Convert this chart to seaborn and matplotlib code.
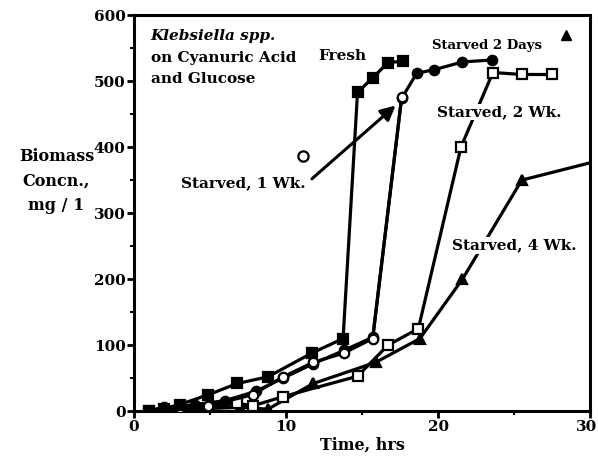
import matplotlib
matplotlib.use("Agg")
import matplotlib.pyplot as plt
import matplotlib.transforms as mtransforms
import seaborn as sns
import pandas as pd

# ---- data ----
fresh_t = [1, 2, 3, 4.9, 6.8, 8.8, 11.7, 13.75, 14.7, 15.7, 16.7, 17.7]
fresh_y = [0, 4, 10, 25, 42, 52, 88, 110, 483, 505, 528, 530]

days2_t = [1, 2, 4, 6, 8, 9.8, 11.8, 13.8, 15.7, 17.6, 18.6, 19.7, 21.6, 23.55]
days2_y = [0, 5, 10, 16, 30, 50, 72, 92, 112, 474, 512, 517, 529, 532]

wk1_t = [1, 2, 3, 4.9, 7.8, 9.8, 11.8, 13.8, 15.7, 17.6]
wk1_y = [0, 7, 5, 8, 25, 52, 74, 88, 110, 476]

wk2_t = [1, 3, 6.8, 7.8, 9.8, 14.7, 16.7, 18.7, 21.5, 23.6, 25.5, 27.5]
wk2_y = [0, 0, 12, 8, 22, 53, 100, 125, 400, 513, 510, 510]

wk4_t = [1, 3, 5, 7, 8.8, 11.8, 15.9, 18.8, 21.6, 25.5, 32]
wk4_y = [0, 2, 4, 6, 3, 42, 74, 110, 200, 350, 388]

x_ticks = [0, 10, 20, 30]
y_ticks = [0, 100, 200, 300, 400, 500, 600]

# label symbols drawn next to labels
wk1_symbol = (11.1, 386)
days2_symbol = (28.4, 570)

sns.set_theme(style="white")
plt.rcParams["font.family"] = ["DejaVu Serif"]
plt.rcParams["font.weight"] = "bold"
for k in ["text.color", "axes.labelcolor", "xtick.color", "ytick.color",
          "axes.edgecolor"]:
    plt.rcParams[k] = "black"

fig = plt.figure(figsize=(5.98, 4.71), dpi=100)
ax = fig.add_axes([0.224, 0.127, 0.763, 0.841])

lw = 2.3
ms = 6.8
mew = 1.6

def draw(t, y, marker, face, z):
    df = pd.DataFrame({"t": t, "y": y})
    sns.lineplot(data=df, x="t", y="y", ax=ax, color="black", lw=lw,
                 marker=marker, markersize=ms, markerfacecolor=face,
                 markeredgecolor="black", markeredgewidth=mew,
                 estimator=None, sort=False, zorder=z, clip_on=True)

draw(wk4_t, wk4_y, "^", "black", 3)
draw(wk2_t, wk2_y, "s", "white", 4)
draw(days2_t, days2_y, "o", "black", 5)
draw(wk1_t, wk1_y, "o", "white", 6)
draw(fresh_t, fresh_y, "s", "black", 7)

ax.set_xlim(0, 30)
ax.set_ylim(0, 600)
ax.set_xticks(x_ticks)
ax.set_yticks(y_ticks)
ax.set_xticks([5, 15, 25], minor=True)
ax.set_yticks([50, 150, 250, 350, 450, 550], minor=True)
ax.tick_params(which="major", direction="out", length=5, width=2,
               labelsize=11, left=True, bottom=True, pad=1,
               colors="black")
ax.tick_params(which="minor", direction="out", length=3, width=1.5,
               left=True, bottom=True, colors="black")
for lab in ax.get_xticklabels() + ax.get_yticklabels():
    lab.set_fontweight("bold")
# nudge the last x label so it stays inside the figure
last = ax.get_xticklabels()[-1]
last.set_transform(last.get_transform() +
                   mtransforms.ScaledTranslation(-4 / 100, 0, fig.dpi_scale_trans))
for s in ax.spines.values():
    s.set_linewidth(2.2)
    s.set_color("black")

ax.set_xlabel("Time, hrs", fontsize=11.5, fontweight="bold", labelpad=2)
ax.set_ylabel("")
ax.text(-0.17, 0.581, "Biomass\nConcn.,\nmg / 1", transform=ax.transAxes,
        ha="center", va="center", fontsize=11.5, fontweight="bold",
        linespacing=1.6)

txt = dict(fontweight="bold", color="black", zorder=10)
box = dict(facecolor="white", edgecolor="none", pad=1.0)

ax.text(1.1, 568, "Klebsiella spp.", fontsize=11, style="italic", va="center", **txt)
ax.text(1.1, 535, "on Cyanuric Acid", fontsize=11, va="center", **txt)
ax.text(1.1, 503, "and Glucose", fontsize=11, va="center", **txt)
ax.text(12.1, 538, "Fresh", fontsize=11, va="center", **txt)
ax.text(23.2, 554, "Starved 2 Days", fontsize=9.5, ha="center", va="center", **txt)
ax.text(24.0, 453, "Starved, 2 Wk.", fontsize=11, ha="center", va="center",
        bbox=box, **txt)
ax.text(25.0, 251, "Starved, 4 Wk.", fontsize=11, ha="center", va="center",
        bbox=box, **txt)
ax.text(7.2, 345, "Starved, 1 Wk.", fontsize=11, ha="center", va="center", **txt)

ax.plot([wk1_symbol[0]], [wk1_symbol[1]], marker="o", ms=ms + 0.6, mfc="white",
        mec="black", mew=mew, zorder=10, clip_on=False)
ax.plot([days2_symbol[0]], [days2_symbol[1]], marker="^", ms=ms, mfc="black",
        mec="black", zorder=10, clip_on=False)

ax.annotate("", xy=(17.2, 463), xytext=(11.7, 352),
            arrowprops=dict(arrowstyle="-|>", color="black", lw=2.2,
                            mutation_scale=22, shrinkA=0, shrinkB=0),
            zorder=10)

fig.savefig("out.png", dpi=100)
